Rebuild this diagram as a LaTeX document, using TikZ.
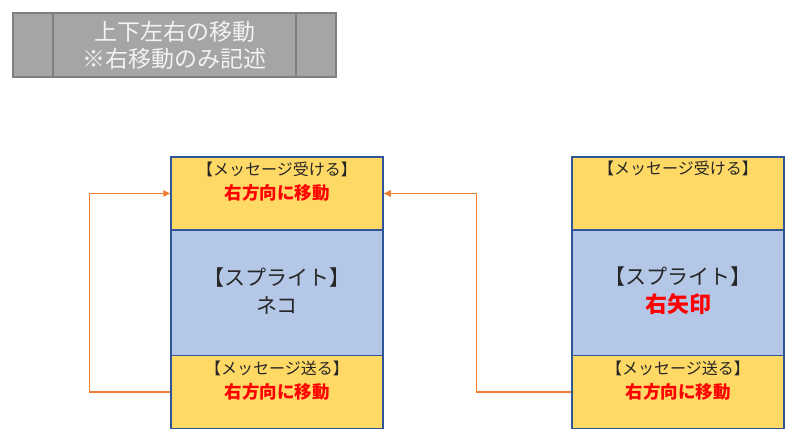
\documentclass[tikz,border=0pt]{standalone}
\usepackage{fontspec}
\setmainfont{Noto Sans CJK JP}
\usetikzlibrary{arrows.meta}
\definecolor{ttlfill}{HTML}{A5A5A5}
\definecolor{ttldraw}{HTML}{7F7F7F}
\definecolor{ttltext}{HTML}{F2F2F2}
\definecolor{ylw}{HTML}{FFD966}
\definecolor{blu}{HTML}{B4C7E7}
\definecolor{bdr}{HTML}{2F5597}
\definecolor{org}{HTML}{ED7D31}
\definecolor{txt}{HTML}{262626}
\definecolor{redtx}{HTML}{FF0000}
\tikzset{
  box/.style={draw=bdr, line width=1.5pt, minimum width=212pt, inner sep=0pt},
  msgbox/.style={box, fill=ylw, minimum height=73pt},
  sprbox/.style={box, fill=blu, minimum height=126pt},
  small/.style={font=\fontsize{16}{24}\selectfont, text=txt, align=center, inner sep=0pt},
  big/.style={font=\fontsize{21}{28}\selectfont, text=txt, align=center, inner sep=0pt},
  arr/.style={draw=org, line width=1.5pt, -{Triangle[length=7pt,width=6.5pt]}},
}
\newcommand{\redb}[1]{\textcolor{redtx}{\bfseries\fontsize{17.5}{24}\selectfont #1}}
\begin{document}
\begin{tikzpicture}[x=1pt,y=1pt]
\useasboundingbox (0,0) rectangle (800,447);
% title
\node[draw=ttldraw, fill=ttlfill, line width=1.3pt, minimum width=323pt, minimum height=64pt, inner sep=0pt] (ttl) at (174.5,402) {};
\draw[ttldraw, line width=1.3pt] (53,370) -- (53,434);
\draw[ttldraw, line width=1.3pt] (296,370) -- (296,434);
\node[font=\fontsize{23}{27}\selectfont, text=ttltext, align=center, inner sep=0pt] (ttltx) at (ttl.center) {上下左右の移動\\※右移動のみ記述};
% left stack
\node[msgbox] (nt) at (277,253.5) {};
\node[sprbox] (ns) at (277,154) {};
\node[msgbox] (nb) at (277,55) {};
\node[small] (ntt) at (277,265) {【メッセージ受ける】\\\redb{右方向に移動}};
\node[big] (nst) at (277,156) {【スプライト】\\ネコ};
\node[small] (nbt) at (277,66) {【メッセージ送る】\\\redb{右方向に移動}};
% right stack
\node[msgbox] (at) at (678,253.5) {};
\node[sprbox] (as) at (678,154) {};
\node[msgbox] (ab) at (678,55) {};
\node[small, anchor=north] (att) at (678,286) {【メッセージ受ける】};
\node[big] (ast) at (678,156) {【スプライト】\\\textcolor{redtx}{\bfseries\fontsize{22}{28}\selectfont 右矢印}};
\node[small] (abt) at (678,66) {【メッセージ送る】\\\redb{右方向に移動}};
% arrows
\draw[arr] (nb.west) -- ++(-81,0) |- (nt.west);
\draw[arr] (ab.west) -- ++(-95,0) |- (nt.east);
\end{tikzpicture}
\end{document}
